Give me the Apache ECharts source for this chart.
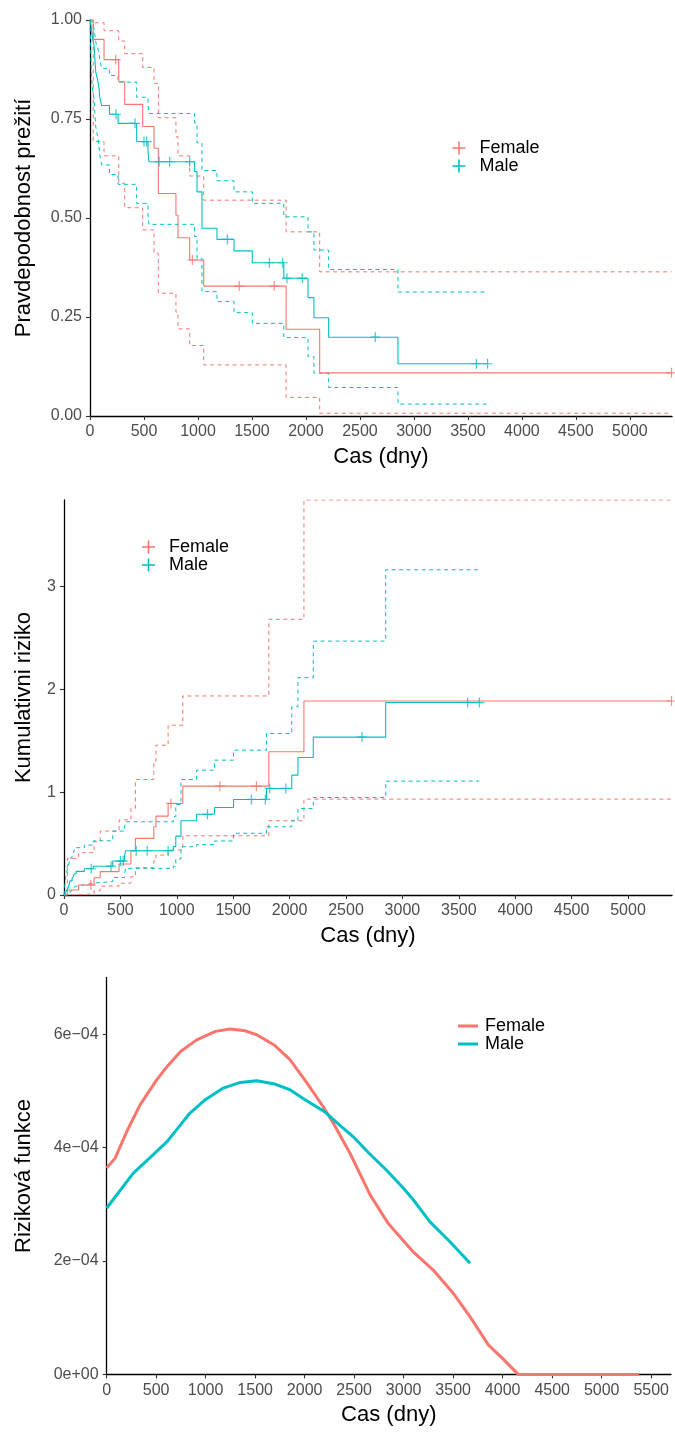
<!DOCTYPE html>
<html>
<head>
<meta charset="utf-8">
<script src="https://cdn.jsdelivr.net/npm/echarts@6/dist/echarts.min.js"></script>
<style>
  html, body { margin: 0; padding: 0; background: #fff; }
  #chart { width: 675px; height: 1433px; }
</style>
</head>
<body>
<div id="chart"></div>
<script>
// --- survival (Kaplan-Meier), female ---
const femaleTimes = [0, 30, 130, 266, 321, 488, 593, 633, 796, 815, 923, 1053, 1816, 2127, 5386]
const femaleSurv = [1, 0.951, 0.900, 0.844, 0.787, 0.731, 0.676, 0.562, 0.507, 0.450, 0.394, 0.328, 0.219, 0.109, 0.109]
const femaleSurvUpper = [1, 0.993, 0.973, 0.947, 0.915, 0.880, 0.840, 0.753, 0.705, 0.657, 0.606, 0.545, 0.465, 0.364, 0.364]
const femaleSurvLower = [1, 0.693, 0.657, 0.588, 0.526, 0.470, 0.411, 0.310, 0.262, 0.220, 0.178, 0.129, 0.047, 0.007, 0.007]
const femaleCumhaz = [0, 0.048, 0.097, 0.168, 0.227, 0.301, 0.430, 0.550, 0.663, 0.767, 0.890, 1.058, 1.392, 1.886, 1.886]
const femaleCumhazUpper = [0, 0.356, 0.411, 0.518, 0.622, 0.730, 0.842, 1.123, 1.300, 1.456, 1.650, 1.935, 2.680, 3.840, 3.840]
const femaleCumhazLower = [0, 0.002, 0.012, 0.040, 0.087, 0.115, 0.178, 0.265, 0.330, 0.388, 0.437, 0.576, 0.722, 0.932, 0.932]
const femaleCensored = [238, 948, 1382, 1706, 5386]

// --- survival (Kaplan-Meier), male ---
const maleTimes = [0, 13, 22, 37, 53, 71, 84, 90, 108, 180, 260, 432, 537, 546, 969, 991, 1037, 1176, 1334, 1503, 1795, 2019, 2074, 2210, 2852, 3682]
const maleSurv = [1, 0.978, 0.957, 0.937, 0.869, 0.848, 0.827, 0.806, 0.784, 0.762, 0.739, 0.693, 0.668, 0.642, 0.617, 0.566, 0.474, 0.446, 0.417, 0.387, 0.348, 0.299, 0.248, 0.199, 0.132, 0.132]
const maleSurvUpper = [1, 0.997, 0.989, 0.980, 0.945, 0.930, 0.915, 0.900, 0.878, 0.860, 0.843, 0.805, 0.785, 0.764, 0.740, 0.690, 0.620, 0.594, 0.566, 0.537, 0.503, 0.465, 0.419, 0.370, 0.313, 0.313]
const maleSurvLower = [1, 0.860, 0.830, 0.800, 0.730, 0.705, 0.680, 0.659, 0.634, 0.610, 0.585, 0.537, 0.510, 0.484, 0.453, 0.398, 0.314, 0.289, 0.261, 0.234, 0.198, 0.150, 0.108, 0.072, 0.030, 0.030]
const maleCumhaz = [0, 0.022, 0.045, 0.068, 0.137, 0.160, 0.183, 0.206, 0.230, 0.255, 0.280, 0.330, 0.390, 0.430, 0.470, 0.572, 0.722, 0.785, 0.851, 0.929, 1.036, 1.165, 1.337, 1.535, 1.871, 1.871]
const maleCumhazUpper = [0, 0.160, 0.220, 0.270, 0.360, 0.390, 0.410, 0.437, 0.460, 0.485, 0.527, 0.621, 0.660, 0.712, 0.760, 0.880, 1.123, 1.214, 1.311, 1.408, 1.570, 1.830, 2.113, 2.468, 3.162, 3.162]
const maleCumhazLower = [0, 0.001, 0.005, 0.012, 0.040, 0.055, 0.070, 0.085, 0.100, 0.115, 0.130, 0.170, 0.200, 0.259, 0.280, 0.350, 0.469, 0.490, 0.525, 0.600, 0.663, 0.722, 0.841, 0.948, 1.107, 1.107]
const maleCensored = [241, 417, 500, 525, 640, 738, 923, 1272, 1661, 1785, 1824, 1966, 2642, 3578, 3682]

// --- smoothed hazard ---
const femaleHazTimes = [0, 85, 200, 337, 500, 607, 750, 910, 1100, 1246, 1400, 1516, 1700, 1852, 2000, 2188, 2300, 2458, 2660, 2845, 3097, 3299, 3501, 3670, 3855, 4006, 4157, 5379]
const femaleHaz = [3.64e-4, 3.81e-4, 4.27e-4, 4.75e-4, 5.18e-4, 5.42e-4, 5.70e-4, 5.90e-4, 6.05e-4, 6.09e-4, 6.06e-4, 5.99e-4, 5.80e-4, 5.55e-4, 5.20e-4, 4.72e-4, 4.40e-4, 3.90e-4, 3.17e-4, 2.66e-4, 2.16e-4, 1.84e-4, 1.43e-4, 1.02e-4, 0.52e-4, 0.27e-4, 0, 0]
const maleHazTimes = [0, 270, 450, 607, 700, 842, 1000, 1178, 1350, 1516, 1700, 1852, 2000, 2205, 2350, 2492, 2650, 2828, 3000, 3097, 3266, 3468, 3670]
const maleHaz = [2.93e-4, 3.55e-4, 3.84e-4, 4.10e-4, 4.30e-4, 4.61e-4, 4.85e-4, 5.05e-4, 5.15e-4, 5.18e-4, 5.12e-4, 5.02e-4, 4.85e-4, 4.63e-4, 4.40e-4, 4.19e-4, 3.90e-4, 3.60e-4, 3.28e-4, 3.08e-4, 2.69e-4, 2.34e-4, 1.96e-4]

// --- ticks ---
const timeTicks = [0, 500, 1000, 1500, 2000, 2500, 3000, 3500, 4000, 4500, 5000]
const timeTicksLong = [0, 500, 1000, 1500, 2000, 2500, 3000, 3500, 4000, 4500, 5000, 5500]
const survTicks = [0, 0.25, 0.5, 0.75, 1]
const cumhazTicks = [0, 1, 2, 3]
const hazardTicks = [0, 2e-4, 4e-4, 6e-4]
const hazardTickLabels = ['0e+00', '2e\u221204', '4e\u221204', '6e\u221204']

const RED = '#F8766D'
const TEAL = '#00BFC4'
const FONT = "'Liberation Sans', Arial, sans-serif"
const PLUS = 'path://M4.4,0h1.2v4.4h4.4v1.2h-4.4v4.4h-1.2v-4.4h-4.4v-1.2h4.4z'

function pairs(times, vals) {
  return times.map((t, i) => [t, vals[i]])
}

function levelAt(times, vals, t) {
  let v = vals[0]
  for (let i = 0; i < times.length; i++) {
    if (times[i] <= t) v = vals[i]
  }
  return v
}

function stepLine(name, times, vals, color, dashed, idx) {
  return {
    name,
    type: 'line',
    step: 'end',
    data: pairs(times, vals),
    xAxisIndex: idx,
    yAxisIndex: idx,
    symbol: 'none',
    silent: true,
    animation: false,
    z: dashed ? 2 : 3,
    itemStyle: { color },
    lineStyle: { color, width: dashed ? 1 : 1.1, type: dashed ? [4, 3.5] : 'solid' }
  }
}

function censorMarks(name, cens, times, vals, color, idx) {
  return {
    name,
    type: 'scatter',
    data: cens.map(t => [t, levelAt(times, vals, t)]),
    xAxisIndex: idx,
    yAxisIndex: idx,
    symbol: PLUS,
    symbolSize: 10,
    silent: true,
    animation: false,
    z: 4,
    itemStyle: { color }
  }
}

function hazardLine(name, times, vals, color) {
  return {
    name,
    type: 'line',
    data: pairs(times, vals),
    xAxisIndex: 2,
    yAxisIndex: 2,
    symbol: 'none',
    silent: true,
    animation: false,
    itemStyle: { color },
    lineStyle: { color, width: 3 }
  }
}

function xAxis(idx, max, ticks) {
  return {
    type: 'value',
    gridIndex: idx,
    min: 0,
    max,
    name: 'Cas (dny)',
    nameLocation: 'middle',
    nameGap: 30,
    nameTextStyle: { color: '#000', fontSize: 22, fontFamily: FONT },
    splitLine: { show: false },
    axisLine: { show: true, onZero: false, lineStyle: { color: '#000', width: 1.3 } },
    axisTick: { show: true, length: 4, customValues: ticks, lineStyle: { color: '#333', width: 1.1 } },
    axisLabel: { color: '#4D4D4D', fontSize: 16, fontFamily: FONT, margin: 8, customValues: ticks, formatter: v => String(v) }
  }
}

function yAxis(idx, max, ticks, name, gap, fmt) {
  return {
    type: 'value',
    gridIndex: idx,
    min: 0,
    max,
    name,
    nameLocation: 'middle',
    nameGap: gap,
    nameTextStyle: { color: '#000', fontSize: 22, fontFamily: FONT },
    splitLine: { show: false },
    axisLine: { show: true, onZero: false, lineStyle: { color: '#000', width: 1.3 } },
    axisTick: { show: true, length: 4, customValues: ticks, lineStyle: { color: '#333', width: 1.1 } },
    axisLabel: { color: '#4D4D4D', fontSize: 16, fontFamily: FONT, margin: 8, customValues: ticks, formatter: fmt }
  }
}

function legend(left, top, icon, w, h, pad) {
  return {
    left,
    top,
    padding: 0,
    orient: 'vertical',
    icon,
    itemWidth: w,
    itemHeight: h,
    itemGap: 0,
    selectedMode: false,
    data: ['Female', 'Male'],
    textStyle: { color: '#000', fontSize: 18, fontFamily: FONT, padding: [0, 0, 0, pad] }
  }
}

const chart = echarts.init(document.getElementById('chart'))

chart.setOption({
  animation: false,
  backgroundColor: '#fff',
  grid: [
    { left: 90, top: 20, width: 582, height: 396, containLabel: false, outerBoundsMode: 'none' },
    { left: 64, top: 500, width: 608, height: 395, containLabel: false, outerBoundsMode: 'none' },
    { left: 106.6, top: 977.5, width: 564.4, height: 396.9, containLabel: false, outerBoundsMode: 'none' }
  ],
  legend: [
    legend(452.5, 139, PLUS, 13, 13, 9),
    legend(142, 538, PLUS, 13, 13, 9),
    legend(458, 1017, 'rect', 20, 3, 2)
  ],
  xAxis: [
    xAxis(0, 5390, timeTicks),
    xAxis(1, 5390, timeTicks),
    xAxis(2, 5700, timeTicksLong)
  ],
  yAxis: [
    yAxis(0, 1, survTicks, 'Pravdepodobnost prežití', 55, v => v.toFixed(2)),
    yAxis(1, 3.84, cumhazTicks, 'Kumulativni riziko', 29, v => String(v)),
    yAxis(2, 7e-4, hazardTicks, 'Riziková funkce', 72, v => {
      const i = hazardTicks.findIndex(t => Math.abs(t - v) < 1e-9)
      return i >= 0 ? hazardTickLabels[i] : ''
    })
  ],
  series: [
    // survival panel
    stepLine('Female upper', femaleTimes, femaleSurvUpper, RED, true, 0),
    stepLine('Female lower', femaleTimes, femaleSurvLower, RED, true, 0),
    stepLine('Male upper', maleTimes, maleSurvUpper, TEAL, true, 0),
    stepLine('Male lower', maleTimes, maleSurvLower, TEAL, true, 0),
    stepLine('Female', femaleTimes, femaleSurv, RED, false, 0),
    stepLine('Male', maleTimes, maleSurv, TEAL, false, 0),
    censorMarks('Female censored', femaleCensored, femaleTimes, femaleSurv, RED, 0),
    censorMarks('Male censored', maleCensored, maleTimes, maleSurv, TEAL, 0),
    // cumulative hazard panel
    stepLine('Female upper', femaleTimes, femaleCumhazUpper, RED, true, 1),
    stepLine('Female lower', femaleTimes, femaleCumhazLower, RED, true, 1),
    stepLine('Male upper', maleTimes, maleCumhazUpper, TEAL, true, 1),
    stepLine('Male lower', maleTimes, maleCumhazLower, TEAL, true, 1),
    stepLine('Female', femaleTimes, femaleCumhaz, RED, false, 1),
    stepLine('Male', maleTimes, maleCumhaz, TEAL, false, 1),
    censorMarks('Female censored', femaleCensored, femaleTimes, femaleCumhaz, RED, 1),
    censorMarks('Male censored', maleCensored, maleTimes, maleCumhaz, TEAL, 1),
    // hazard panel
    hazardLine('Female', femaleHazTimes, femaleHaz, RED),
    hazardLine('Male', maleHazTimes, maleHaz, TEAL)
  ]
})
</script>
</body>
</html>
